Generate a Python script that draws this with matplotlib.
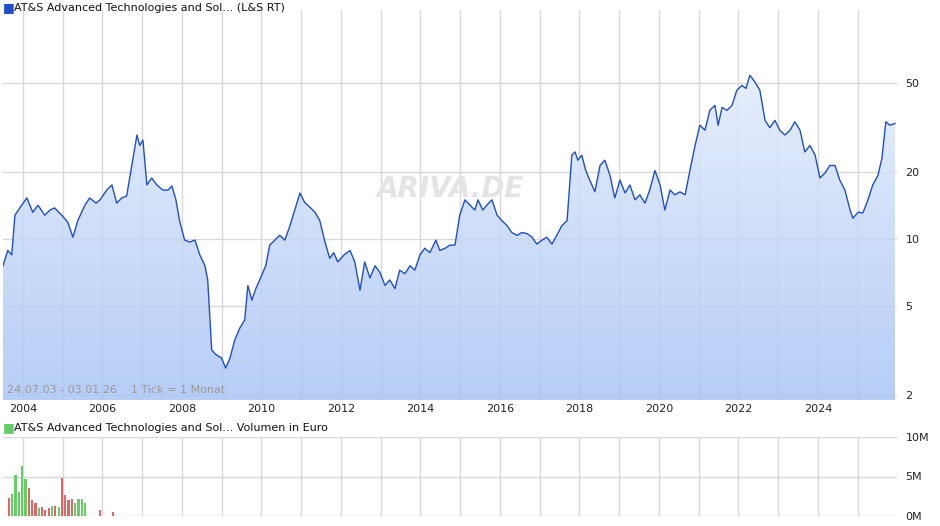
import matplotlib
matplotlib.use("Agg")
import matplotlib.pyplot as plt
import numpy as np
from matplotlib.ticker import FixedLocator, NullLocator
from matplotlib.colors import LinearSegmentedColormap

years = [2003.5,2003.62,2003.72,2003.8,2003.97,2004.1,2004.25,2004.38,2004.55,2004.68,2004.8,2004.98,2005.13,2005.26,2005.38,2005.56,2005.68,2005.84,2005.94,2006.11,2006.24,2006.36,2006.49,2006.61,2006.74,2006.87,2006.94,2007.02,2007.12,2007.24,2007.37,2007.52,2007.65,2007.75,2007.85,2007.95,2008.07,2008.2,2008.33,2008.45,2008.58,2008.65,2008.75,2008.85,2009.0,2009.1,2009.21,2009.33,2009.46,2009.58,2009.66,2009.76,2009.86,2010.01,2010.11,2010.21,2010.34,2010.46,2010.59,2010.72,2010.84,2010.97,
2011.09,2011.22,2011.35,2011.47,2011.6,2011.72,2011.82,2011.92,2012.08,2012.23,2012.35,2012.48,2012.6,2012.73,2012.86,2012.98,2013.11,2013.23,2013.36,2013.48,2013.61,2013.74,2013.86,2013.99,2014.11,2014.24,2014.39,2014.49,2014.62,2014.74,2014.87,2014.99,2015.12,2015.25,2015.37,2015.45,2015.57,2015.67,2015.8,2015.93,2016.05,2016.18,2016.3,2016.43,2016.55,2016.68,2016.81,2016.93,2017.06,2017.18,2017.31,2017.43,2017.56,2017.69,2017.81,2017.89,2017.96,2018.06,2018.16,2018.26,2018.39,2018.52,2018.64,2018.77,2018.89,2019.02,2019.15,2019.27,2019.4,2019.52,2019.65,2019.77,2019.9,2020.03,2020.15,2020.28,2020.4,2020.53,2020.66,2020.78,2020.91,2021.03,2021.16,2021.28,2021.41,2021.49,2021.59,2021.71,2021.84,2021.96,2022.09,2022.19,2022.29,2022.42,2022.54,2022.67,2022.79,2022.92,2023.04,2023.17,2023.3,2023.42,2023.55,2023.67,2023.8,2023.93,2024.05,2024.18,2024.3,2024.43,2024.55,2024.68,2024.81,2024.88,2025.01,2025.13,2025.26,2025.38,2025.51,2025.61,2025.71,2025.81,2025.94]
prices = [7.6,8.9,8.5,12.8,14.2,15.3,13.2,14.2,12.8,13.5,13.8,12.8,11.9,10.2,12.1,14.2,15.3,14.5,15.0,16.6,17.5,14.5,15.3,15.6,21.4,29.3,26.3,27.8,17.5,18.8,17.5,16.6,16.6,17.3,15.0,11.9,9.9,9.7,9.9,8.5,7.6,6.56,3.19,3.04,2.93,2.64,2.93,3.53,4.0,4.34,6.2,5.33,6.0,6.9,7.6,9.4,9.9,10.4,9.9,11.5,13.5,16.1,
14.6,13.9,13.2,12.1,9.7,8.2,8.7,7.9,8.5,8.9,7.9,5.9,7.9,6.7,7.6,7.1,6.2,6.56,6.0,7.26,7.0,7.6,7.26,8.5,9.1,8.7,9.9,8.9,9.1,9.4,9.4,12.8,15.0,14.2,13.5,15.0,13.5,14.2,15.0,12.8,12.1,11.5,10.7,10.4,10.7,10.6,10.2,9.5,9.9,10.2,9.5,10.4,11.5,12.1,23.8,24.6,22.6,23.8,20.3,18.4,16.3,21.4,22.6,19.3,15.3,18.4,16.1,17.5,15.0,15.8,14.5,16.6,20.3,17.5,13.5,16.6,15.8,16.3,15.8,20.3,26.3,32.4,30.8,37.8,39.8,32.4,39.0,37.8,39.8,46.5,48.9,47.4,54.3,50.5,46.5,34.1,31.6,34.1,30.8,29.3,30.8,33.6,30.8,24.6,26.3,23.8,18.8,19.8,21.4,21.4,18.4,16.6,13.5,12.4,13.2,13.1,15.0,17.5,19.3,23.0,33.6,32.4,33.0]

vol_years = [2003.65+k/12 for k in range(24)] + [2005.93, 2006.26]
vol_m = [2.3,2.8,5.2,3.1,6.3,4.7,3.6,2.0,1.7,1.0,1.1,0.8,1.0,1.3,1.3,1.2,4.8,2.6,2.0,2.1,1.7,2.2,2.2,1.7,0.8,0.5]
vol_up = [0,1,1,1,1,1,0,0,0,1,0,0,0,1,0,1,0,0,0,0,1,1,1,1,0,0]

price_ticks = [2,5,10,20,50]
vol_ticks = [0,5,10]
vol_labels = ["0M","5M","10M"]

W, H = 940, 526
fig = plt.figure(figsize=(9.4,5.26), dpi=100)
fig.patch.set_facecolor("white")
L, R = 3/W, 897/W
ax = fig.add_axes([L, 1-400/H, R-L, 390/H])
axv = fig.add_axes([L, 1-516/H, R-L, 79/H])

grid_c = "#d8d8d8"
x0, x1 = 2003.5, 2025.99
for a in (ax, axv):
    a.set_xlim(x0, x1)
    for s in a.spines.values():
        s.set_visible(False)
    a.xaxis.set_major_locator(FixedLocator(list(range(2004, 2026))))
    a.grid(True, color=grid_c, lw=1)
    a.set_axisbelow(True)
    a.yaxis.tick_right()
    a.tick_params(axis="y", length=0, labelsize=8, colors="#222222", pad=6)
    a.tick_params(axis="x", length=0, labelsize=8, colors="#222222")

ax.set_yscale("log")
ymin = 2*10**(-5/223); ymax = 2*10**(385/223)
ax.set_ylim(ymin, ymax)
ax.yaxis.set_major_locator(FixedLocator(price_ticks))
ax.yaxis.set_minor_locator(NullLocator())
ax.set_yticklabels([str(t) for t in price_ticks])
ax.set_xticks(list(range(2004, 2026)))
ax.set_xticklabels([str(y) if y % 2 == 0 else "" for y in range(2004, 2026)])
ax.tick_params(axis="x", pad=3)

grad = np.linspace(0, 1, 256).reshape(-1, 1)
cmap = LinearSegmentedColormap.from_list("g", ["#a9c5f5", "#cbdcf9", "#eef4fe"])
im = ax.imshow(grad, aspect="auto", cmap=cmap, origin="lower", alpha=0.85,
               extent=[0, 1, 0, 1], transform=ax.transAxes, zorder=1)
poly = ax.fill_between(years, prices, ymin, color="none")
im.set_clip_path(poly.get_paths()[0], transform=ax.transData)
ax.plot(years, prices, color="#1f4fc4", lw=1, zorder=3)
ax.set_ylim(ymin, ymax)
ax.set_xlim(x0, x1)

ax.text(0.5, 0.54, "ARIVA.DE", transform=ax.transAxes, fontsize=20, color="#e4e4e4",
        fontstyle="italic", fontweight="bold", ha="center", va="center", zorder=2)
ax.text(0.005, 0.012, "24.07.03 - 03.01.26    1 Tick = 1 Monat", transform=ax.transAxes,
        fontsize=8, color="#999999", ha="left", va="bottom", zorder=4)

colors = ["#66cc66" if u else "#dd6666" for u in vol_up]
axv.bar(vol_years, vol_m, width=0.055, color=colors, zorder=3)
axv.set_ylim(0, 10)
axv.yaxis.set_major_locator(FixedLocator(vol_ticks))
axv.set_yticklabels(vol_labels)
axv.set_xticklabels([])

fig.text(3/W, 1-8/H, "■", color="#1f4fc4", fontsize=9, va="center", ha="left")
fig.text(14/W, 1-8/H, "AT&S Advanced Technologies and Sol... (L&S RT)", fontsize=8,
         color="#111111", va="center", ha="left")
fig.text(3/W, 1-428/H, "■", color="#66cc66", fontsize=9, va="center", ha="left")
fig.text(14/W, 1-428/H, "AT&S Advanced Technologies and Sol... Volumen in Euro", fontsize=8,
         color="#111111", va="center", ha="left")

fig.savefig("out.png", dpi=100, facecolor="white")
